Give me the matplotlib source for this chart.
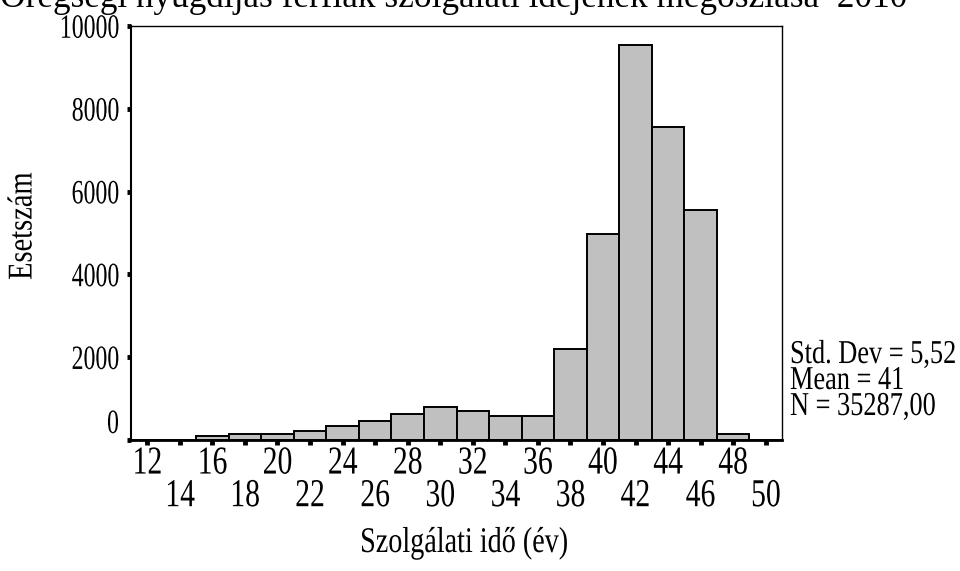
import matplotlib
matplotlib.use("Agg")
import matplotlib.pyplot as plt
from matplotlib.patheffects import AbstractPathEffect
from matplotlib.transforms import Affine2D, Bbox
from matplotlib.text import Text
from matplotlib.ticker import FixedLocator

# ---------------- data ----------------
bin_centers = [12, 14, 16, 18, 20, 22, 24, 26, 28, 30, 32, 34, 36, 38, 40, 42, 44, 46, 48, 50]
counts = [0, 0, 90, 140, 140, 220, 350, 465, 630, 800, 710, 580, 580, 2190, 4980, 9540, 7560, 5565, 140, 0]
row1_ticks = [12, 16, 20, 24, 28, 32, 36, 40, 44, 48]
row2_ticks = [14, 18, 22, 26, 30, 34, 38, 42, 46, 50]
y_ticks = [0, 2000, 4000, 6000, 8000, 10000]
y_tick_labels = ["0", "2000", "4000", "6000", "8000", "10000"]
title = "Öregségi nyugdíjas férfiak szolgálati idejének megoszlása  2010"
x_label = "Szolgálati idő (év)"
y_label = "Esetszám"
stats_lines = ["Std. Dev = 5,52", "Mean = 41", "N = 35287,00"]


class Squeeze(AbstractPathEffect):
    """Scale glyphs (sx horizontally about an anchor, sy about the baseline)."""
    def __init__(self, sx=0.75, anchor="center", sy=1.0):
        super().__init__()
        self.sx = sx
        self.sy = sy
        self.anchor = anchor

    def draw_path(self, renderer, gc, tpath, affine, rgbFace=None):
        cx = 0.0
        if len(tpath.vertices):
            ext = tpath.get_extents()
            if self.anchor == "center":
                cx = (ext.x0 + ext.x1) / 2
            elif self.anchor == "right":
                cx = ext.x1
        t = (Affine2D().translate(-cx, 0).scale(self.sx, self.sy).translate(cx, 0)
             + affine)
        renderer.draw_path(gc, tpath, t, rgbFace)


class CondensedText(Text):
    """Text drawn horizontally condensed; its extent reports the condensed size."""
    def __init__(self, *args, sx=0.75, **kw):
        super().__init__(*args, **kw)
        self._sx = sx
        self.set_path_effects([Squeeze(sx, self.get_horizontalalignment())])

    def get_window_extent(self, renderer=None, dpi=None):
        bb = super().get_window_extent(renderer, dpi)
        sx = self._sx
        ha = self.get_horizontalalignment()
        if abs((self.get_rotation() % 180) - 90) < 1:
            c = (bb.y0 + bb.y1) / 2
            half = (bb.y1 - bb.y0) * sx / 2
            return Bbox.from_extents(bb.x0, c - half, bb.x1, c + half)
        w = (bb.x1 - bb.x0) * sx
        if ha == "left":
            return Bbox.from_extents(bb.x0, bb.y0, bb.x0 + w, bb.y1)
        if ha == "right":
            return Bbox.from_extents(bb.x1 - w, bb.y0, bb.x1, bb.y1)
        c = (bb.x0 + bb.x1) / 2
        return Bbox.from_extents(c - w / 2, bb.y0, c + w / 2, bb.y1)


W, H = 960, 571
fig = plt.figure(figsize=(W / 100, H / 100), dpi=100)
plt.rcParams["font.family"] = ["Liberation Serif", "DejaVu Serif"]

L, R, T, B = 131, 782, 26, 440
ax = fig.add_axes([L / W, (H - B) / H, (R - L) / W, (B - T) / H])

ax.bar(bin_centers, counts, width=2, color="#c0c0c0", edgecolor="black",
       linewidth=1.4, zorder=2)
ax.set_xlim(11, 51)
ax.set_ylim(0, 10000)

for side, lw in [("left", 1.5), ("bottom", 2.0), ("top", 1.0), ("right", 1.0)]:
    ax.spines[side].set_linewidth(lw)
    ax.spines[side].set_color("black")
ax.spines["bottom"].set_zorder(3)

# x ticks: two rows of labels
ax.xaxis.set_major_locator(FixedLocator(row1_ticks))
ax.xaxis.set_minor_locator(FixedLocator(row2_ticks))
ax.set_xticks(row1_ticks, [str(v) for v in row1_ticks])
ax.set_xticks(row2_ticks, [str(v) for v in row2_ticks], minor=True)
ax.tick_params(axis="x", which="major", length=3.5, width=3.5, pad=0.5,
               labelsize=28.5, direction="out")
ax.tick_params(axis="x", which="minor", length=3.5, width=3.5, pad=24,
               labelsize=28.5, direction="out")

ax.set_yticks(y_ticks, y_tick_labels)
ax.tick_params(axis="y", which="major", length=3, width=3.5, pad=5.5,
               labelsize=24.5, direction="out")

for lbl in ax.get_xticklabels() + ax.get_xticklabels(minor=True):
    lbl.set_path_effects([Squeeze(0.75, "center")])
for lbl in ax.get_yticklabels():
    lbl.set_path_effects([Squeeze(0.7, "right")])
ax.get_yticklabels()[0].set_va("bottom")

# axis labels
fig.add_artist(CondensedText(464 / W, 1 - 552 / H, x_label, ha="center",
                             va="baseline", fontsize=26, sx=0.78,
                             transform=fig.transFigure))
fig.add_artist(CondensedText(23 / W, 1 - 226 / H, y_label, ha="center",
                             va="center", rotation=90, fontsize=25, sx=0.82,
                             transform=fig.transFigure))

# stats block: natural width kept, glyphs stretched tall (condensed look)
stat_sx = 0.79
for i, s in enumerate(stats_lines):
    fig.text(790 / W, 1 - (363 + 26 * i) / H, s, ha="left", va="baseline",
             fontsize=24 * stat_sx,
             path_effects=[Squeeze(1.0, "left", sy=1 / stat_sx)])

# title (partially cut off at the top, as in the original)
tt = fig.text(454 / W, 1 - 7 / H, title, ha="center", va="baseline", fontsize=26)
fig.canvas.draw()
w = tt.get_window_extent().width
tt.set_fontsize(26 * 908 / w)

fig.savefig("out.png", dpi=100)
